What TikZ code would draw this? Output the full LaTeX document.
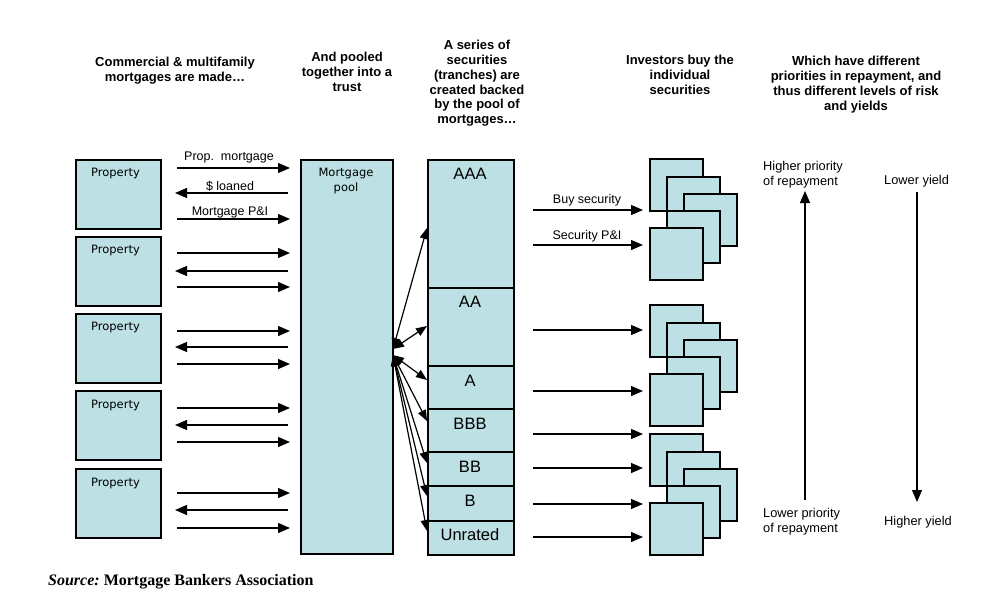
\documentclass[tikz,border=0pt]{standalone}
\usepackage{fontspec}
\setmainfont{Liberation Sans}
\newfontfamily\verd{DejaVu Sans}
\newfontfamily\tnr{Liberation Serif}
\usetikzlibrary{arrows.meta}
\definecolor{boxfill}{RGB}{188,224,227}
\begin{document}
\begin{tikzpicture}[x=1pt,y=-1pt,
  prop/.style={draw, line width=2pt, fill=boxfill, inner sep=0, anchor=north west},
  colbox/.style={draw, line width=1.6pt, fill=boxfill, inner sep=0, anchor=north west},
  sq/.style={draw, line width=2pt, fill=boxfill, inner sep=0, anchor=north west, minimum width=53pt, minimum height=52pt},
  arr/.style={-{Triangle[length=12pt,width=10pt]}, line width=1.3pt},
  darr/.style={{Triangle[length=11pt,width=8.5pt]}-{Triangle[length=11pt,width=8.5pt]}, line width=1.2pt},
  hdr/.style={font=\fontsize{13}{14.8}\selectfont\bfseries, align=center, anchor=north, inner sep=0},
  lbl/.style={font=\fontsize{12.5}{15}\selectfont, inner sep=0},
  vlbl/.style={font=\verd\fontsize{11.5}{15}\selectfont, inner sep=0, align=center},
  tlbl/.style={font=\fontsize{16.5}{18}\selectfont, inner sep=0},
  rlbl/.style={font=\fontsize{12.8}{15.2}\selectfont, inner sep=0, align=left, anchor=north west}]
\useasboundingbox (0,0) rectangle (999,605);

% headers
\node[hdr] (h1) at (175,57) {Commercial \& multifamily\\mortgages are made\dots};
\node[hdr] (h2) at (347,52) {And pooled\\together into a\\trust};
\node[hdr] (h3) at (477,40) {A series of\\securities\\(tranches) are\\created backed\\by the pool of\\mortgages\dots};
\node[hdr] (h4) at (680,55) {Investors buy the\\individual\\securities};
\node[hdr] (h5) at (856,56) {Which have different\\priorities in repayment, and\\thus different levels of risk\\and yields};

% property boxes
\foreach \i/\t in {1/159,2/236,3/313,4/390,5/468}{
  \node[prop, minimum width=85pt, minimum height=69pt] (p\i) at (75,\t) {};
  \node[vlbl] (pl\i) at (115.5,\t+15) {Property};
}

% mortgage pool
\node[colbox, minimum width=92pt, minimum height=394pt] (pool) at (300,159) {};
\node[vlbl] (pooll) at (346,181) {Mortgage\\pool};

% tranches
\foreach \n/\t/\h in {t1/159/128,t2/287/78,t3/365/43,t4/408/43,t5/451/34,t6/485/35,t7/520/34}{
  \node[colbox, minimum width=86pt, minimum height=\h pt] (\n) at (427,\t) {};
}
\node[tlbl] (l1) at (470,174) {AAA};
\node[tlbl] (l2) at (470,302) {AA};
\node[tlbl] (l3) at (470,381) {A};
\node[tlbl] (l4) at (470,424) {BBB};
\node[tlbl] (l5) at (470,467) {BB};
\node[tlbl] (l6) at (470,501) {B};
\node[tlbl] (l7) at (470,535) {Unrated};

% stacks of securities
\foreach \k/\top in {1/158,2/304,3/433}{
  \foreach \j/\dx/\dy in {1/0/0,2/17/17.5,3/34/35,4/17/52,5/0/69}{
    \node[sq] (s\k\j) at (649+\dx,\top+\dy) {};
  }
}

% property <-> pool arrows
\foreach \i/\ya/\yb/\yc in {1/168/193/219,2/253/271/287,3/331/347/364,4/408/425/442,5/493/510/528}{
  \coordinate (a\i L1) at (177,\ya); \coordinate (a\i R1) at (290,\ya);
  \coordinate (a\i L2) at (175,\yb); \coordinate (a\i R2) at (288,\yb);
  \coordinate (a\i L3) at (177,\yc); \coordinate (a\i R3) at (290,\yc);
  \draw[arr] (a\i L1) -- (a\i R1);
  \draw[arr] (a\i R2) -- (a\i L2);
  \draw[arr] (a\i L3) -- (a\i R3);
}
\node[lbl] (pm) at (229,157) {Prop.\ \ mortgage};
\node[lbl] (sl) at (230,186) {\$ loaned};
\node[lbl] (mpi) at (230,212) {Mortgage P\&I};

% pool <-> tranche fan
\coordinate (fa) at (393,349);
\coordinate (fb) at (393,355);
\coordinate (e1) at (427,228);
\coordinate (e2) at (427,326);
\coordinate (e3) at (427,380);
\coordinate (e4) at (427,421);
\coordinate (e5) at (427,463);
\coordinate (e6) at (427,496);
\coordinate (e7) at (427,531);
\draw[darr] (fa) -- (e1);
\draw[darr] (fa) -- (e2);
\foreach \e in {e3,e4,e5,e6,e7}{\draw[darr] (fb) -- (\e);}

% tranche -> investors arrows
\foreach \m/\y in {1/210,2/245,3/330,4/391,5/434,6/468,7/504,8/537}{
  \coordinate (b\m) at (533,\y); \coordinate (c\m) at (643,\y);
  \draw[arr] (b\m) -- (c\m);
}
\node[lbl] (bs) at (587,200) {Buy security};
\node[lbl] (spi) at (587,236) {Security P\&I};

% priority / yield
\coordinate (u1) at (805,500); \coordinate (u2) at (805,191);
\draw[arr] (u1) -- (u2);
\coordinate (d1) at (917,192); \coordinate (d2) at (917,502);
\draw[arr] (d1) -- (d2);
\node[rlbl] (hp) at (763,161) {Higher priority\\of repayment};
\node[rlbl] (lp) at (763,508) {Lower priority\\of repayment};
\node[rlbl, anchor=west] (ly) at (884,181) {Lower yield};
\node[rlbl, anchor=west] (hy) at (884,522) {Higher yield};

% source
\node[anchor=west, inner sep=0, font=\tnr\fontsize{16}{18}\selectfont\bfseries] (src) at (48,582) {\itshape Source:\upshape\ Mortgage Bankers Association};
\end{tikzpicture}
\end{document}
